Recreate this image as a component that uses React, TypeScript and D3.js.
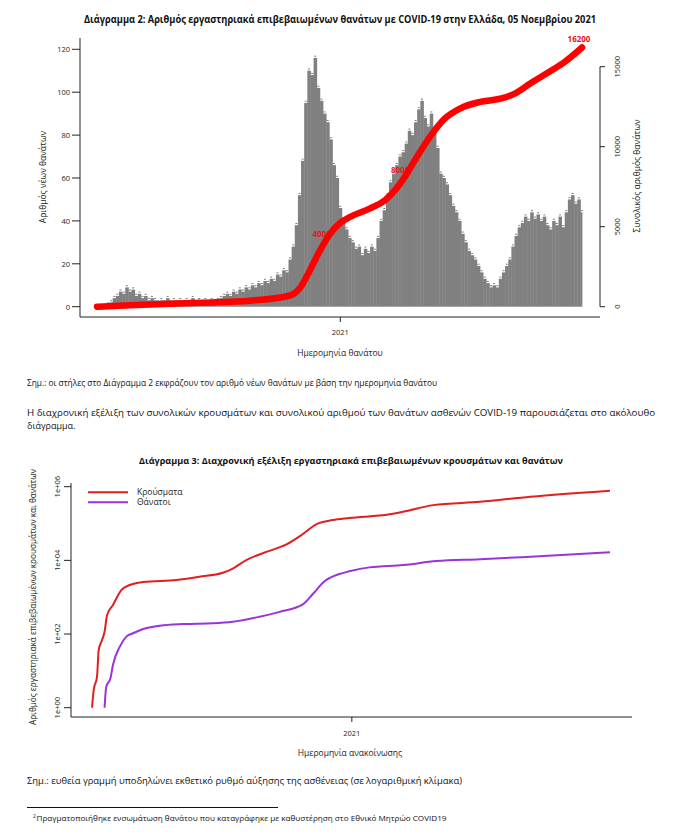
import { useEffect, useRef } from 'react';
import * as d3 from 'd3';

const parse = d3.utcParse('%Y-%m-%d');

// Διάγραμμα 2: νέοι θάνατοι, 4-ήμερες στήλες από 2020-02-26
const binStart = '2020-02-26';
const binDays = 4;
const dailyDeaths = [
  0, 0, 0, 1, 2, 4, 5, 7, 6, 9, 7, 8, 5, 6, 4, 5, 3, 4, 3, 2,
  3, 2, 4, 2, 3, 2, 3, 2, 3, 2, 4, 2, 3, 2, 3, 2, 3, 2, 3, 4,
  5, 6, 5, 7, 6, 8, 7, 9, 8, 10, 9, 11, 10, 12, 11, 13, 12, 15, 14, 17,
  16, 22, 28, 38, 52, 68, 95, 110, 108, 116, 102, 96, 90, 86, 78, 66, 60, 46, 40, 36,
  32, 30, 27, 28, 24, 27, 25, 28, 26, 32, 40, 45, 52, 58, 62, 66, 70, 72, 76, 82,
  80, 86, 92, 96, 88, 84, 90, 82, 74, 62, 60, 57, 52, 47, 44, 40, 34, 30, 26, 24,
  22, 19, 16, 13, 11, 9, 10, 9, 13, 16, 19, 22, 28, 33, 37, 39, 42, 40, 44, 41,
  43, 40, 42, 38, 36, 40, 38, 42, 37, 44, 50, 52, 48, 50, 44,
];
const dataEnd = '2021-11-05';

// συνολικός αριθμός θανάτων (δεξιός άξονας)
const cumDeathDates = [
  '2020-02-26', '2020-04-08', '2020-07-06', '2020-09-08', '2020-10-29', '2020-11-11',
  '2020-11-23', '2020-12-06', '2020-12-19', '2021-01-01', '2021-01-13', '2021-02-08',
  '2021-02-27', '2021-03-12', '2021-03-24', '2021-04-06', '2021-04-25', '2021-05-14',
  '2021-06-03', '2021-06-28', '2021-07-24', '2021-08-12', '2021-08-31', '2021-09-25',
  '2021-10-14', '2021-11-05',
];
const cumDeathValues = [
  0, 90, 250, 375, 700, 1200, 2250, 3500, 4550, 5250, 5600, 6150,
  6650, 7300, 8100, 9150, 10600, 11750, 12400, 12800, 13000, 13330, 13950, 14700,
  15300, 16200,
];
const milestoneLabels = ['4000', '8000', '16200'];
const milestoneDates = ['2020-12-12', '2021-03-22', '2021-11-05'];
const milestoneValues = [4000, 8000, 16200];

const leftTicks = [0, 20, 40, 60, 80, 100, 120];
const rightTicks = [0, 5000, 10000, 15000];

// Διάγραμμα 3: κρούσματα και θάνατοι (λογαριθμική κλίμακα)
const caseDates = [
  '2020-02-26', '2020-02-28', '2020-03-03', '2020-03-05', '2020-03-09', '2020-03-12',
  '2020-03-15', '2020-03-22', '2020-04-01', '2020-04-11', '2020-04-27', '2020-06-06',
  '2020-07-03', '2020-07-31', '2020-08-12', '2020-08-28', '2020-09-21', '2020-10-15',
  '2020-11-02', '2020-11-20', '2020-12-09', '2020-12-29', '2021-02-15', '2021-03-03',
  '2021-04-08', '2021-06-03', '2021-08-02', '2021-11-05',
];
const caseValues = [
  1, 3, 7, 37, 69, 115, 330, 615, 1560, 2140, 2570, 2930,
  3590, 4600, 6000, 10200, 17000, 27000, 48700, 96500, 124000, 141000, 178000, 209000,
  316000, 389000, 533000, 778000,
];
const deathDates = [
  '2020-03-12', '2020-03-14', '2020-03-19', '2020-03-22', '2020-03-30', '2020-04-07',
  '2020-04-15', '2020-04-27', '2020-05-17', '2020-06-14', '2020-07-19', '2020-08-12',
  '2020-09-13', '2020-10-07', '2020-11-04', '2020-11-16', '2020-11-29', '2020-12-17',
  '2020-12-29', '2021-01-22', '2021-03-03', '2021-04-12', '2021-06-03', '2021-08-02',
  '2021-11-05',
];
const deathValues = [
  1, 3.7, 6.3, 14.5, 45, 85, 105, 137, 168, 186, 195, 215,
  295, 400, 650, 1260, 2650, 4260, 5040, 6450, 7440, 9560, 10700, 12600,
  16600,
];
const logTicks = [1, 100, 10000, 1000000];
const logTickLabels = ['1e+00', '1e+02', '1e+04', '1e+06'];

const FONT = "'Open Sans', 'DejaVu Sans', sans-serif";
const INK = '#222';

export default function App() {
  const ref = useRef<SVGSVGElement | null>(null);

  useEffect(() => {
    if (!ref.current) return;
    const svg = d3.select(ref.current);
    svg.selectAll('*').remove();

    const addText = (
      g: d3.Selection<any, unknown, null, undefined>,
      x: number,
      y: number,
      s: string,
      opts: { size?: number; weight?: string; anchor?: string; fill?: string; len?: number; rotate?: boolean } = {}
    ) => {
      const t = g
        .append('text')
        .attr('font-family', FONT)
        .attr('font-size', opts.size ?? 8.5)
        .attr('font-weight', opts.weight ?? 'normal')
        .attr('text-anchor', opts.anchor ?? 'start')
        .attr('fill', opts.fill ?? INK)
        .text(s);
      if (opts.rotate) {
        t.attr('transform', `translate(${x},${y}) rotate(-90)`).attr('dy', '0.35em');
      } else {
        t.attr('x', x).attr('y', y);
      }
      if (opts.len) t.attr('textLength', opts.len).attr('lengthAdjust', 'spacingAndGlyphs');
      return t;
    };

    // ---------- Διάγραμμα 2 ----------
    const c1 = svg.append('g');
    const t0 = parse(binStart)!;
    const tEnd = parse(dataEnd)!;
    const x1 = d3.scaleUtc().domain([t0, tEnd]).range([97, 582]);
    const yL = d3.scaleLinear().domain([0, 120]).range([306.7, 49.3]);
    const yR = d3.scaleLinear().domain([0, 15000]).range([306.7, 66.7]);

    addText(c1, 340, 22.5,
      'Διάγραμμα 2: Αριθμός εργαστηριακά επιβεβαιωμένων θανάτων με COVID-19 στην Ελλάδα, 05 Νοεμβρίου 2021',
      { size: 10, weight: 'bold', anchor: 'middle', fill: '#111', len: 512 });

    const bins = dailyDeaths.map((v, i) => {
      const a = d3.utcDay.offset(t0, i * binDays);
      let b = d3.utcDay.offset(t0, (i + 1) * binDays);
      if (b > tEnd) b = tEnd;
      return { a, b, v };
    });

    c1.append('g')
      .selectAll('rect')
      .data(bins)
      .join('rect')
      .attr('x', (d) => x1(d.a))
      .attr('width', (d) => Math.max(0.8, x1(d.b) - x1(d.a) + 0.4))
      .attr('y', (d) => yL(d.v))
      .attr('height', (d) => yL(0) - yL(d.v))
      .attr('fill', '#808080');

    // small value marks on top of the bars
    c1.append('g')
      .selectAll('rect')
      .data(bins.filter((d) => d.v > 0))
      .join('rect')
      .attr('x', (d) => x1(d.a) + 0.6)
      .attr('width', 2)
      .attr('y', (d) => yL(d.v) - 2.2)
      .attr('height', 1)
      .attr('fill', '#3a3a3a')
      .attr('opacity', 0.65);

    // milestone labels (partly hidden by the line)
    milestoneLabels.forEach((s, i) => {
      addText(c1, x1(parse(milestoneDates[i])!) - 3, yR(milestoneValues[i]) - 6, s,
        { size: 8, weight: 'bold', anchor: 'middle', fill: '#e8141b' });
    });

    const cumLine = d3
      .line<number>()
      .x((i) => x1(parse(cumDeathDates[i])!))
      .y((i) => yR(cumDeathValues[i]))
      .curve(d3.curveMonotoneX);
    c1.append('path')
      .attr('d', cumLine(cumDeathValues.map((_, i) => i))!)
      .attr('fill', 'none')
      .attr('stroke', '#ff0000')
      .attr('stroke-width', 6.5)
      .attr('stroke-linecap', 'round');

    // axes
    c1.append('line').attr('x1', 80).attr('x2', 80).attr('y1', 38).attr('y2', 317).attr('stroke', INK);
    c1.append('line').attr('x1', 80).attr('x2', 600).attr('y1', 317).attr('y2', 317).attr('stroke', INK);
    leftTicks.forEach((v) => {
      c1.append('line').attr('x1', 72).attr('x2', 80).attr('y1', yL(v)).attr('y2', yL(v)).attr('stroke', INK);
      addText(c1, 70, yL(v) + 2.8, String(v), { size: 7.5, anchor: 'end' });
    });
    c1.append('line').attr('x1', 600).attr('x2', 600).attr('y1', yR(0)).attr('y2', yR(15000)).attr('stroke', INK);
    rightTicks.forEach((v) => {
      c1.append('line').attr('x1', 600).attr('x2', 605).attr('y1', yR(v)).attr('y2', yR(v)).attr('stroke', INK);
      addText(c1, 617, yR(v), String(v), { size: 7.5, anchor: 'middle', rotate: true });
    });
    const t2021 = parse('2021-01-01')!;
    c1.append('line').attr('x1', x1(t2021)).attr('x2', x1(t2021)).attr('y1', 317).attr('y2', 322).attr('stroke', INK);
    addText(c1, x1(t2021), 335, '2021', { size: 7.5, anchor: 'middle' });
    addText(c1, 340, 356, 'Ημερομηνία θανάτου', { size: 8.5, anchor: 'middle' });
    addText(c1, 43, 177, 'Αριθμός νέων θανάτων', { size: 8.5, anchor: 'middle', rotate: true });
    addText(c1, 637, 176, 'Συνολικός αριθμός θανάτων', { size: 8.5, anchor: 'middle', rotate: true });

    // ---------- κείμενο ----------
    const body = svg.append('g');
    addText(body, 27, 386,
      'Σημ.: οι στήλες στο Διάγραμμα 2 εκφράζουν τον αριθμό νέων θανάτων με βάση την ημερομηνία θανάτου',
      { size: 9, fill: '#111', len: 410 });
    addText(body, 27, 416,
      'Η διαχρονική εξέλιξη των συνολικών κρουσμάτων και συνολικού αριθμού των θανάτων ασθενών COVID-19 παρουσιάζεται στο ακόλουθο',
      { size: 9, fill: '#111', len: 628 });
    addText(body, 27, 429, 'διάγραμμα.', { size: 9, fill: '#111' });

    // ---------- Διάγραμμα 3 ----------
    const c2 = svg.append('g');
    const x2 = d3.scaleUtc().domain([t0, tEnd]).range([92, 610]);
    const yLog = d3.scaleLog().domain([1, 1000000]).range([707.7, 486.7]);

    addText(c2, 351, 463.5,
      'Διάγραμμα 3: Διαχρονική εξέλιξη εργαστηριακά επιβεβαιωμένων κρουσμάτων και θανάτων',
      { size: 9.5, weight: 'bold', anchor: 'middle', fill: '#111', len: 424 });

    const logLine = (dates: string[], values: number[]) =>
      d3
        .line<number>()
        .x((i) => x2(parse(dates[i])!))
        .y((i) => yLog(values[i]))
        .curve(d3.curveMonotoneX)(values.map((_, i) => i));

    const series = [
      { name: 'Κρούσματα', dates: caseDates, values: caseValues, color: '#e0201f' },
      { name: 'Θάνατοι', dates: deathDates, values: deathValues, color: '#9a33dc' },
    ];
    series.forEach((s) => {
      c2.append('path')
        .attr('d', logLine(s.dates, s.values)!)
        .attr('fill', 'none')
        .attr('stroke', s.color)
        .attr('stroke-width', 2)
        .attr('stroke-linejoin', 'round');
    });

    c2.append('line').attr('x1', 71).attr('x2', 71).attr('y1', 483).attr('y2', 717).attr('stroke', INK);
    c2.append('line').attr('x1', 71).attr('x2', 632).attr('y1', 717).attr('y2', 717).attr('stroke', INK);
    logTicks.forEach((v, i) => {
      c2.append('line').attr('x1', 64).attr('x2', 71).attr('y1', yLog(v)).attr('y2', yLog(v)).attr('stroke', INK);
      addText(c2, 57, yLog(v), logTickLabels[i], { size: 7.5, anchor: 'middle', rotate: true });
    });
    c2.append('line').attr('x1', x2(t2021)).attr('x2', x2(t2021)).attr('y1', 717).attr('y2', 722).attr('stroke', INK);
    addText(c2, x2(t2021), 735.5, '2021', { size: 7.5, anchor: 'middle' });
    addText(c2, 350, 756, 'Ημερομηνία ανακοίνωσης', { size: 8.5, anchor: 'middle' });
    addText(c2, 33, 597, 'Αριθμός εργαστηριακά επιβεβαιωμένων κρουσμάτων και θανάτων',
      { size: 8.5, anchor: 'middle', rotate: true, len: 256 });

    series.forEach((s, i) => {
      const y = 492.3 + i * 10;
      c2.append('line').attr('x1', 88).attr('x2', 128).attr('y1', y).attr('y2', y)
        .attr('stroke', s.color).attr('stroke-width', 2);
      addText(c2, 137, y + 3, s.name, { size: 8.5 });
    });

    // ---------- σημειώσεις ----------
    addText(body, 27, 783.5,
      'Σημ.: ευθεία γραμμή υποδηλώνει εκθετικό ρυθμό αύξησης της ασθένειας (σε λογαριθμική κλίμακα)',
      { size: 9, fill: '#111', len: 435 });
    body.append('line').attr('x1', 27).attr('x2', 278).attr('y1', 807.5).attr('y2', 807.5)
      .attr('stroke', '#111').attr('stroke-width', 1);
    addText(body, 33, 817.5, '2', { size: 5, fill: '#111' });
    addText(body, 36.5, 821, 'Πραγματοποιήθηκε ενσωμάτωση θανάτου που καταγράφηκε με καθυστέρηση στο Εθνικό Μητρώο COVID19',
      { size: 7.5, fill: '#111', len: 410 });
  }, []);

  return (
    <svg
      ref={ref}
      width={685}
      height={836}
      style={{ position: 'absolute', left: 0, top: 0, background: '#fff' }}
    />
  );
}
